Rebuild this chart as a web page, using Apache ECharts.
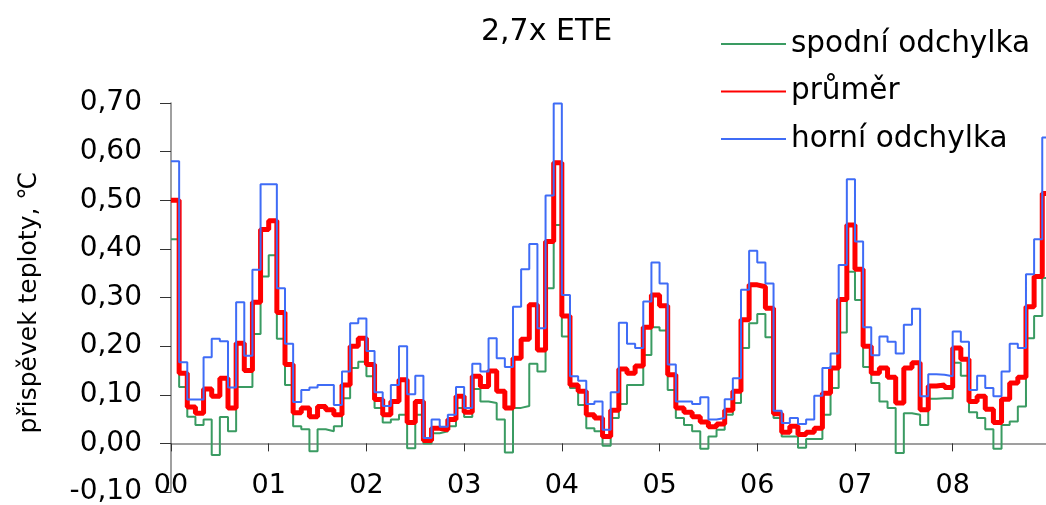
<!DOCTYPE html>
<html>
<head>
<meta charset="utf-8">
<title>2,7x ETE</title>
<script src="https://cdn.jsdelivr.net/npm/echarts@6/dist/echarts.min.js"></script>
<style>
  html, body { margin: 0; padding: 0; background: #fff; }
  #chart { width: 1046px; height: 505px; }
</style>
</head>
<body>
<div id="chart"></div>
<script>
// 2hodinové kroky, 12 na den
const stepsPerDay = 12;
const dayLabels = ['00', '01', '02', '03', '04', '05', '06', '07', '08'];
const seriesNames = ['spodní odchylka', 'průměr', 'horní odchylka'];

const lowerDev = [
  0.42, 0.116, 0.055, 0.038, 0.049, -0.024, 0.054, 0.025, 0.116, 0.116, 0.225, 0.343,
  0.387, 0.215, 0.12, 0.035, 0.029, -0.016, 0.029, 0.025, 0.035, 0.093, 0.155, 0.168,
  0.138, 0.073, 0.043, 0.049, 0.059, -0.01, 0.059, 0.0, 0.021, 0.025, 0.035, 0.073,
  0.054, 0.112, 0.086, 0.083, 0.049, -0.019, 0.073, 0.077, 0.164, 0.148, 0.319, 0.449,
  0.22, 0.114, 0.079, 0.031, 0.025, -0.005, 0.052, 0.081, 0.12, 0.12, 0.182, 0.239,
  0.232, 0.11, 0.052, 0.038, 0.025, -0.011, 0.014, 0.028, 0.059, 0.083, 0.196, 0.247,
  0.266, 0.218, 0.052, 0.014, 0.014, -0.009, 0.009, 0.009, 0.059, 0.114, 0.228, 0.353,
  0.295, 0.157, 0.124, 0.086, 0.073, -0.02, 0.062, 0.059, 0.038, 0.092, 0.093, 0.093,
  0.166, 0.139, 0.064, 0.052, 0.029, -0.011, 0.038, 0.045, 0.076, 0.216, 0.262, 0.34
];

const meanVals = [
  0.50, 0.144, 0.075, 0.062, 0.112, 0.097, 0.134, 0.073, 0.206, 0.15, 0.29, 0.44,
  0.458, 0.269, 0.162, 0.063, 0.073, 0.055, 0.076, 0.069, 0.059, 0.12, 0.2, 0.216,
  0.162, 0.09, 0.059, 0.086, 0.131, 0.043, 0.086, 0.006, 0.031, 0.028, 0.049, 0.097,
  0.064, 0.138, 0.117, 0.149, 0.107, 0.073, 0.175, 0.214, 0.285, 0.192, 0.415, 0.577,
  0.262, 0.12, 0.107, 0.059, 0.052, 0.014, 0.068, 0.153, 0.144, 0.159, 0.239, 0.305,
  0.283, 0.141, 0.073, 0.064, 0.055, 0.044, 0.034, 0.04, 0.068, 0.107, 0.254, 0.326,
  0.322, 0.278, 0.061, 0.023, 0.035, 0.018, 0.023, 0.031, 0.103, 0.155, 0.296, 0.449,
  0.358, 0.2, 0.144, 0.155, 0.136, 0.083, 0.155, 0.166, 0.069, 0.118, 0.12, 0.115,
  0.196, 0.173, 0.086, 0.097, 0.07, 0.043, 0.091, 0.124, 0.136, 0.281, 0.343, 0.514
];

const upperDev = [
  0.58, 0.167, 0.09, 0.09, 0.177, 0.215, 0.21, 0.115, 0.29, 0.18, 0.357, 0.533,
  0.533, 0.319, 0.205, 0.085, 0.11, 0.115, 0.12, 0.12, 0.079, 0.148, 0.247, 0.257,
  0.19, 0.105, 0.077, 0.12, 0.2, 0.101, 0.139, 0.011, 0.049, 0.034, 0.059, 0.116,
  0.073, 0.164, 0.148, 0.216, 0.175, 0.157, 0.281, 0.358, 0.41, 0.237, 0.51, 0.699,
  0.305, 0.138, 0.129, 0.081, 0.086, 0.028, 0.105, 0.248, 0.205, 0.196, 0.292, 0.372,
  0.329, 0.162, 0.086, 0.086, 0.081, 0.095, 0.049, 0.052, 0.091, 0.134, 0.316, 0.396,
  0.372, 0.329, 0.067, 0.042, 0.052, 0.04, 0.049, 0.098, 0.155, 0.185, 0.367, 0.543,
  0.415, 0.239, 0.181, 0.22, 0.209, 0.185, 0.244, 0.277, 0.097, 0.142, 0.141, 0.138,
  0.23, 0.209, 0.11, 0.139, 0.114, 0.097, 0.148, 0.205, 0.196, 0.348, 0.42, 0.629
];

const FONT = 'DejaVu Sans';

// body [den, hodnota]; poslední hodnota se protáhne do konce kroku
function toSteps(vals) {
  const pts = vals.map((v, i) => [i / stepsPerDay, v]);
  pts.push([vals.length / stepsPerDay, vals[vals.length - 1]]);
  return pts;
}

function dayFormatter(v) {
  return Number.isInteger(v) && dayLabels[v] !== undefined ? dayLabels[v] : '';
}

const chart = echarts.init(document.getElementById('chart'), null, { renderer: 'canvas' });

const option = {
  animation: false,
  backgroundColor: '#fff',
  title: {
    text: '2,7x ETE',
    left: 476,
    top: 12,
    textStyle: { fontFamily: FONT, fontSize: 30, fontWeight: 'normal', color: '#000' }
  },
  legend: {
    data: seriesNames,
    orient: 'vertical',
    left: 715,
    top: 24,
    itemWidth: 65,
    itemHeight: 14,
    itemGap: 17.5,
    itemStyle: { opacity: 0 },
    textStyle: { fontFamily: FONT, fontSize: 29.5, color: '#000', lineHeight: 30 }
  },
  grid: {
    left: 171,
    right: 0,
    top: 103,
    bottom: 13,
    containLabel: false,
    outerBoundsMode: 'none'
  },
  xAxis: [
    {
      type: 'value',
      min: 0,
      max: 8.955,
      interval: 1,
      axisLine: { onZero: true, lineStyle: { color: '#808080', width: 1.5 } },
      axisTick: { length: 8, lineStyle: { color: '#333' } },
      axisLabel: { show: false },
      splitLine: { show: false }
    },
    {
      type: 'value',
      position: 'bottom',
      min: 0,
      max: 8.955,
      interval: 1,
      axisLine: { show: false, onZero: false },
      axisTick: { show: false },
      axisLabel: {
        margin: -20,
        formatter: dayFormatter,
        fontFamily: FONT,
        fontSize: 27,
        color: '#000'
      },
      splitLine: { show: false }
    }
  ],
  yAxis: {
    type: 'value',
    min: -0.1,
    max: 0.7,
    interval: 0.1,
    name: 'přispěvek teploty, ℃',
    nameLocation: 'middle',
    nameGap: 129,
    nameTextStyle: { fontFamily: FONT, fontSize: 25, color: '#000', padding: [0, 10, 0, 0] },
    axisLine: { show: true, lineStyle: { color: '#808080', width: 1.5 } },
    axisTick: { show: true, length: 11, lineStyle: { color: '#333' } },
    axisLabel: {
      margin: 29,
      fontFamily: FONT,
      fontSize: 28,
      color: '#000',
      formatter: v => v.toFixed(2).replace('.', ',')
    },
    splitLine: { show: false }
  },
  series: [
    {
      name: seriesNames[0],
      type: 'line',
      step: 'end',
      symbol: 'none',
      data: toSteps(lowerDev),
      color: '#3a9b62',
      lineStyle: { width: 2, color: '#3a9b62' }
    },
    {
      name: seriesNames[1],
      type: 'line',
      step: 'end',
      symbol: 'none',
      data: toSteps(meanVals),
      color: '#ff0000',
      lineStyle: { width: 5, color: '#ff0000' }
    },
    {
      name: seriesNames[2],
      type: 'line',
      step: 'end',
      symbol: 'none',
      data: toSteps(upperDev),
      color: '#3f6cf6',
      lineStyle: { width: 2, color: '#3f6cf6' }
    }
  ]
};

chart.setOption(option);
</script>
</body>
</html>
